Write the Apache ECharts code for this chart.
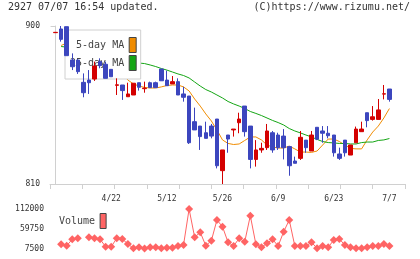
<!DOCTYPE html>
<html><head><meta charset="utf-8">
<script src="https://cdn.jsdelivr.net/npm/echarts@6/dist/echarts.min.js"></script>
<style>html,body{margin:0;padding:0;background:#fff}#c{width:420px;height:259px}</style>
</head><body><div id="c"></div>
<script>
const dates = ['4/8','4/11','4/12','4/13','4/14','4/15','4/18','4/19','4/20','4/21','4/22','4/25','4/26','4/27','4/28',
 '5/2','5/6','5/9','5/10','5/11','5/12','5/13','5/16','5/17','5/18','5/19','5/20','5/23','5/24','5/25','5/26','5/27','5/30','5/31',
 '6/1','6/2','6/3','6/6','6/7','6/8','6/9','6/10','6/13','6/14','6/15','6/16','6/17','6/20','6/21','6/22','6/23','6/24','6/27','6/28','6/29','6/30',
 '7/1','7/4','7/5','7/6','7/7'];
const opens  = [896.2,898.3,899.6,880.6,880.6,867.9,869.2,869.8,879.7,878.2,875.3,866.2,866.4,859.7,860.7,
 867.7,864.3,867.7,867.7,875.5,869.2,867.0,868.3,861.3,860.1,845.5,843.0,839.2,843.0,847.0,817.6,837.9,840.8,844.9,
 854.4,843.0,824.0,829.4,830.7,839.2,837.9,837.3,831.3,823.1,824.6,835.0,828.8,842.3,840.2,838.9,837.9,827.1,835.0,826.5,833.5,839.8,
 850.6,846.8,846.8,861.2,864.1];
const closes = [896.4,892.4,883.1,876.8,874.0,862.0,867.7,877.2,877.4,870.2,871.1,866.5,863.2,861.3,867.4,
 865.1,864.6,864.9,864.9,868.8,866.0,868.3,860.7,859.4,833.5,840.8,837.0,836.0,837.3,820.4,829.4,835.6,841.3,847.0,
 839.8,824.0,829.4,830.3,840.2,829.4,830.7,830.7,820.4,821.8,836.6,830.7,837.9,835.5,838.9,837.5,827.8,824.6,827.8,832.2,841.3,841.3,
 846.1,848.3,852.2,861.4,858.2];
const lows   = [896.2,891.1,883.1,874.9,872.7,859.4,861.3,868.7,875.9,870.2,871.1,860.7,857.9,859.7,860.7,
 863.2,862.0,864.9,864.9,868.8,866.0,867.0,860.7,856.9,832.8,840.8,829.4,836.0,836.0,818.9,810.0,827.8,837.0,838.9,
 837.0,818.9,819.9,827.8,829.4,827.8,829.4,824.0,814.7,821.8,823.7,827.8,828.8,835.0,833.5,836.0,825.6,823.7,825.6,826.5,833.5,839.8,
 842.3,846.1,846.8,858.2,856.9];
const highs  = [896.4,900.0,899.6,884.4,881.0,873.0,874.9,879.7,881.6,879.7,875.3,870.2,866.4,867.7,867.4,
 867.7,868.3,868.3,868.3,875.5,874.6,871.5,870.2,865.4,860.1,853.5,843.0,845.5,844.2,847.0,829.4,837.9,841.3,850.6,
 854.4,843.0,835.0,833.5,844.2,840.2,839.2,841.3,831.3,825.6,840.2,835.0,840.2,842.3,843.0,843.0,837.9,830.7,835.0,832.2,842.7,845.5,
 850.6,854.4,858.4,866.4,864.1];
const ma5 = [null,888.9,890.3,889.0,886.0,882.0,877.5,875.0,874.0,874.0,875.0,874.0,873.1,869.2,867.0,
 865.8,865.0,864.7,864.7,865.3,866.1,866.4,866.4,865.3,863.0,858.4,854.4,849.9,845.9,840.8,835.1,833.1,832.5,832.8,
 834.8,836.8,836.8,835.1,832.2,831.1,830.5,830.5,831.6,830.0,828.2,828.2,828.0,828.8,832.2,835.6,835.6,834.2,832.2,830.3,830.0,830.0,
 835.1,839.6,843.0,847.6,853.0];
const ma25 = [null,888.3,888.0,887.0,886.5,886.0,885.0,884.5,884.0,883.0,882.5,881.5,880.5,880.0,879.3,
 878.9,878.6,877.8,876.9,875.8,874.9,873.8,872.7,871.8,870.4,868.1,865.8,863.8,862.4,860.7,859.0,857.0,855.6,854.4,
 853.0,851.3,850.2,849.0,847.6,846.2,845.0,843.6,841.6,840.2,839.1,837.9,836.8,835.4,834.2,833.6,833.4,833.1,833.1,832.8,832.8,833.6,
 833.9,833.9,834.8,835.1,835.9];
const volumes = [null,18600,14900,31800,34500,null,37100,34500,31800,12300,12300,34500,32600,19400,8000,
 10700,7500,10700,10700,8000,9600,9600,14100,16800,112000,37100,50400,14900,28100,82900,65200,23900,14100,34500,
 25500,94300,18600,10700,21300,31800,14100,52000,82900,14100,14100,14100,23900,8000,14100,10700,30000,32600,16800,10700,8000,8000,
 10700,14100,14100,19400,14100];
const xLabelIdx = [10,20,30,40,50,60];
const priceRange = [810, 900];
const volumeRange = [7500, 112000];

const FONT = 'DejaVu Sans Mono';
const RED = '#d40000', BLUE = '#3c46be', ORANGE = '#f08c00', GREEN = '#14a514', PINK = '#ff6464';
const AX = '#d0d0d0';
const XMIN = -1, XMAX = 62.8;
const lblStyle = {fontFamily: FONT, fontSize: 8, color: '#333'};

const chart = echarts.init(document.getElementById('c'), null, {renderer: 'canvas'});
chart.setOption({
  animation: false,
  title: [
    {text: '2927 07/07 16:54 updated.', left: 8, top: 2, padding: 0,
     textStyle: {fontFamily: FONT, fontSize: 10, fontWeight: 'normal', color: '#333'}},
    {text: '(C)https://www.rizumu.net/', right: 10, top: 2, padding: 0,
     textStyle: {fontFamily: FONT, fontSize: 10, fontWeight: 'normal', color: '#333'}}
  ],
  legend: [
    {data: ['5-day MA', '25-day MA'], orient: 'vertical', left: 65, top: 30, align: 'right',
     icon: 'rect', itemWidth: 7, itemHeight: 15, itemGap: 2, padding: [7, 4, 8, 5],
     backgroundColor: '#fff', borderColor: AX, borderWidth: 1, selectedMode: false, z: 2,
     formatter: n => n === '5-day MA' ? ' ' + n : n,
     itemStyle: {borderColor: '#444', borderWidth: 1},
     textStyle: {fontFamily: FONT, fontSize: 10, color: '#444'}},
    {data: ['Volume'], left: 59, top: 213, align: 'right', icon: 'rect', itemWidth: 6, itemHeight: 15,
     padding: 0, selectedMode: false,
     itemStyle: {borderColor: '#444', borderWidth: 1},
     textStyle: {fontFamily: FONT, fontSize: 10, color: '#444'}}
  ],
  grid: [
    {left: 50, right: 15, top: 26, height: 158},
    {left: 50, right: 15, top: 209, height: 39.5}
  ],
  xAxis: [
    {type: 'value', gridIndex: 0, min: XMIN, max: XMAX, axisLine: {show: false}, axisTick: {show: false},
     splitLine: {show: false},
     axisLabel: Object.assign({customValues: xLabelIdx, formatter: v => dates[Math.round(v)], margin: 11}, lblStyle)},
    {type: 'value', gridIndex: 0, min: 0, max: 11, interval: 1, position: 'bottom',
     axisLine: {show: true, lineStyle: {color: AX}}, axisTick: {show: true, length: 5, lineStyle: {color: AX}},
     axisLabel: {show: false}, splitLine: {show: false}},
    {type: 'value', gridIndex: 1, min: XMIN, max: XMAX, show: false, splitLine: {show: false}}
  ],
  yAxis: [
    {type: 'value', gridIndex: 0, min: priceRange[0], max: priceRange[1], interval: 90,
     axisLine: {show: true, lineStyle: {color: AX}}, axisTick: {show: true, length: 5, lineStyle: {color: AX}},
     splitLine: {show: false}, axisLabel: Object.assign({margin: 10, formatter: v => String(v)}, lblStyle)},
    {type: 'value', gridIndex: 1, min: volumeRange[0], max: volumeRange[1], interval: 52250,
     axisLine: {show: false}, axisTick: {show: false}, splitLine: {show: false},
     axisLabel: Object.assign({margin: 6, formatter: v => String(v)}, lblStyle)}
  ],
  series: [
    {name: '5-day MA', type: 'line', xAxisIndex: 0, yAxisIndex: 0, z: 1, symbol: 'none',
     data: ma5.map((v, i) => [i, v]), lineStyle: {color: ORANGE, width: 1}, itemStyle: {color: ORANGE}},
    {name: '25-day MA', type: 'line', xAxisIndex: 0, yAxisIndex: 0, z: 1, symbol: 'none',
     data: ma25.map((v, i) => [i, v]), lineStyle: {color: GREEN, width: 1}, itemStyle: {color: GREEN}},
    {name: 'Price', type: 'candlestick', xAxisIndex: 0, yAxisIndex: 0, z: 3, barWidth: 4,
     encode: {x: 0, y: [1, 2, 3, 4]},
     data: dates.map((d, i) => [i, opens[i], closes[i], lows[i], highs[i]]),
     itemStyle: {color: RED, color0: BLUE, borderColor: RED, borderColor0: BLUE, borderColorDoji: RED, borderWidth: 1}},
    {name: 'Volume', type: 'line', xAxisIndex: 2, yAxisIndex: 1, symbol: 'diamond', symbolSize: 8,
     showAllSymbol: true, data: volumes.map((v, i) => [i, v]),
     lineStyle: {color: PINK, width: 1}, itemStyle: {color: PINK}}
  ]
});
</script>
</body></html>
